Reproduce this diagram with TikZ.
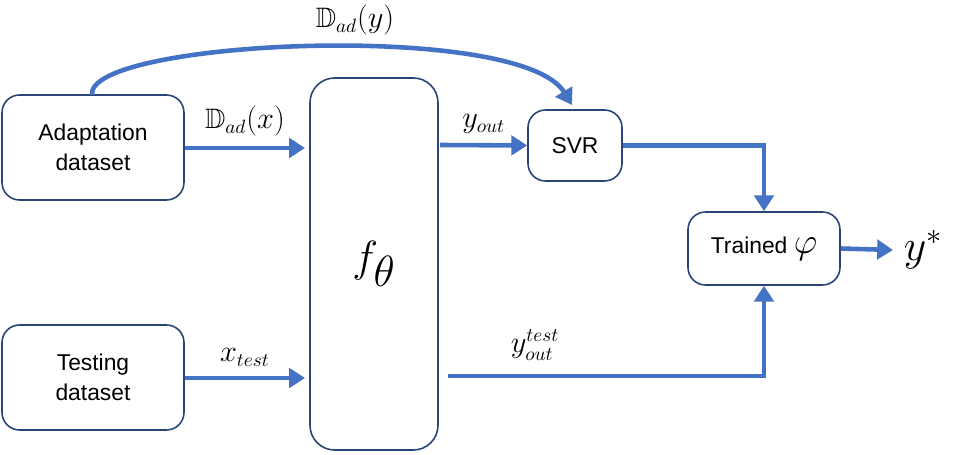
\documentclass[tikz,border=0pt]{standalone}
\usepackage{amssymb}
\usepackage{fontspec}
\setmainfont{Liberation Sans}
\usetikzlibrary{arrows.meta}
\definecolor{myblue}{HTML}{4472C4}
\tikzset{
 box/.style={draw=myblue!60!black, line width=0.9pt, rounded corners=10pt, align=center, font=\fontsize{13}{17}\selectfont, inner sep=0pt},
 conn/.style={draw=myblue, line width=2.6pt, -{Triangle[length=9pt,width=11pt]}},
 lab/.style={font=\fontsize{16}{19}\selectfont}
}
\begin{document}
\begin{tikzpicture}[x=0.02cm,y=-0.02cm]
\useasboundingbox (0,0) rectangle (958,455);
\node[box, minimum width=182*0.02cm, minimum height=105*0.02cm] (ad) at (93,147.5) {Adaptation\\dataset};
\node[box, minimum width=182*0.02cm, minimum height=105*0.02cm] (te) at (93,377.5) {Testing\\dataset};
\node[box, minimum width=128*0.02cm, minimum height=372*0.02cm, rounded corners=14pt] (f) at (374,264) {\fontsize{40}{44}\selectfont $f_\theta$};
\node[box, minimum width=94*0.02cm, minimum height=71*0.02cm] (svr) at (575,145.5) {SVR};
\node[box, minimum width=152*0.02cm, minimum height=73*0.02cm] (tr) at (764,248.5) {Trained {\fontsize{20}{22}\selectfont$\varphi$}};
\node[lab, font=\fontsize{24}{26}\selectfont] (ys) at (923,250) {$y^{*}$};
\coordinate (c1) at (448,376);
\coordinate (c2) at (440,145);
\coordinate (t1) at (305,148);
\coordinate (t2) at (305,378);
\draw[conn] (ad.east |- t1) -- (t1) node[lab, midway, above=2pt] {$\mathbb{D}_{ad}(x)$};
\draw[conn] (te.east |- t2) -- (t2) node[lab, midway, above=2pt] {$x_{test}$};
\draw[conn] (c2) -- (svr.west) node[lab, midway, above=2pt] {$y_{out}$};
\draw[conn] (c1) -- (c1 -| tr.south) -- (tr.south);
\node[lab] (yt) at (535,345) {$y_{out}^{test}$};
\draw[conn] (svr.east) -- (svr.east -| tr.north) -- (tr.north);
\draw[conn] (tr.east) -- (893,250) ;
\draw[conn] (92,95) .. controls (85,40) and (520,20) .. (572,105);
\node[lab] (dy) at (355,20) {$\mathbb{D}_{ad}(y)$};
\end{tikzpicture}
\end{document}
